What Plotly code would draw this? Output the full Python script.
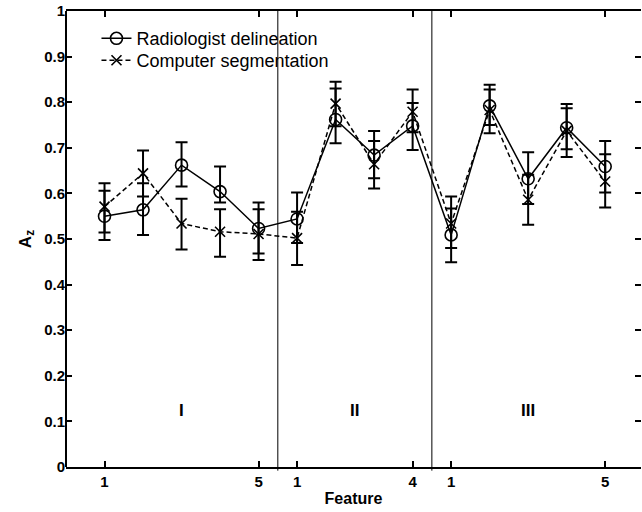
import plotly.graph_objects as go

# x positions (features grouped I: 1-5, II: 1-4, III: 1-5)
positions = [1, 2, 3, 4, 5, 6, 7, 8, 9, 10, 11, 12, 13, 14]
tick_positions = [1, 5, 6, 9, 10, 14]
tick_labels = ["1", "5", "1", "4", "1", "5"]
group_labels = ["I", "II", "III"]
group_label_x = [3, 7.5, 12]
group_label_y = 0.125
group_dividers = [5.5, 9.5]

radiologist = [0.550, 0.564, 0.662, 0.604, 0.523, 0.544, 0.762, 0.684, 0.748, 0.509, 0.792, 0.632, 0.744, 0.659]
radiologist_plus = [0.056, 0.058, 0.050, 0.055, 0.057, 0.058, 0.068, 0.053, 0.050, 0.058, 0.036, 0.058, 0.052, 0.056]
radiologist_minus = [0.052, 0.055, 0.047, 0.024, 0.055, 0.053, 0.052, 0.051, 0.053, 0.060, 0.042, 0.055, 0.047, 0.057]

computer = [0.571, 0.644, 0.534, 0.516, 0.511, 0.502, 0.797, 0.664, 0.779, 0.534, 0.783, 0.586, 0.737, 0.626]
computer_plus = [0.051, 0.050, 0.054, 0.049, 0.054, 0.058, 0.048, 0.051, 0.049, 0.059, 0.055, 0.055, 0.050, 0.060]
computer_minus = [0.057, 0.051, 0.057, 0.055, 0.057, 0.059, 0.050, 0.053, 0.045, 0.054, 0.051, 0.055, 0.057, 0.057]

y_ticks = [0, 0.1, 0.2, 0.3, 0.4, 0.5, 0.6, 0.7, 0.8, 0.9, 1]
y_tick_text = ["0", "0.1", "0.2", "0.3", "0.4", "0.5", "0.6", "0.7", "0.8", "0.9", "1"]

FONT = "Liberation Sans, Arial, Helvetica, sans-serif"

fig = go.Figure()

fig.add_trace(go.Scatter(
    x=positions, y=radiologist, mode="lines+markers",
    name="Radiologist delineation", legend="legend",
    line=dict(color="black", width=1.5, dash="solid"),
    marker=dict(symbol="circle-open", size=12, color="black", line=dict(width=1.6)),
    error_y=dict(type="data", symmetric=False, array=radiologist_plus, arrayminus=radiologist_minus,
                 color="black", thickness=2, width=6),
))

fig.add_trace(go.Scatter(
    x=positions, y=computer, mode="lines+markers",
    name="Computer segmentation", legend="legend2",
    line=dict(color="black", width=1.5, dash="5px,3px"),
    marker=dict(symbol="x-thin-open", size=10, color="black", line=dict(width=1.6, color="black")),
    error_y=dict(type="data", symmetric=False, array=computer_plus, arrayminus=computer_minus,
                 color="black", thickness=2, width=6),
))

for xd in group_dividers:
    fig.add_shape(type="line", xref="x", yref="paper", x0=xd, x1=xd, y0=-0.008, y1=1,
                  line=dict(color="black", width=1))

# left axis line (right side of the box falls outside the picture)
fig.add_shape(type="line", xref="paper", yref="paper", x0=0, x1=0, y0=0, y1=1,
              line=dict(color="black", width=2))

for lab, gx in zip(group_labels, group_label_x):
    fig.add_annotation(x=gx, y=group_label_y, text="<b>%s</b>" % lab, showarrow=False,
                       font=dict(family=FONT, size=17, color="black"))

legend_style = dict(xanchor="left", yanchor="top", bgcolor="rgba(0,0,0,0)", borderwidth=0,
                    font=dict(family=FONT, size=18, color="black"), itemwidth=30)

fig.update_layout(
    width=642, height=512,
    margin=dict(l=66, r=1, t=11, b=45),
    paper_bgcolor="white", plot_bgcolor="white",
    font=dict(family=FONT, color="black"),
    showlegend=True,
    legend=dict(x=0.053, y=0.98, **legend_style),
    legend2=dict(x=0.053, y=0.932, **legend_style),
)

fig.update_xaxes(
    range=[0, 14.93], tickmode="array", tickvals=tick_positions,
    ticktext=["<b>%s</b>" % t for t in tick_labels],
    ticks="inside", ticklen=6, tickwidth=1.5, tickcolor="black",
    showline=True, linecolor="black", linewidth=2, mirror="ticks",
    showgrid=False, zeroline=False,
    tickfont=dict(family=FONT, size=15, color="black"),
    title=dict(text="<b>Feature</b>", font=dict(family=FONT, size=16, color="black"), standoff=4),
)

fig.update_yaxes(
    range=[0, 1], tickmode="array", tickvals=y_ticks,
    ticktext=["<b>%s</b>" % t for t in y_tick_text],
    ticks="inside", ticklen=6, tickwidth=1.5, tickcolor="black",
    showline=False, mirror="ticks",
    showgrid=False, zeroline=False,
    tickfont=dict(family=FONT, size=15, color="black"),
    title=dict(text="<b>A<sub>z</sub></b>", font=dict(family=FONT, size=17, color="black"), standoff=8),
)

fig.write_html("out.html")
